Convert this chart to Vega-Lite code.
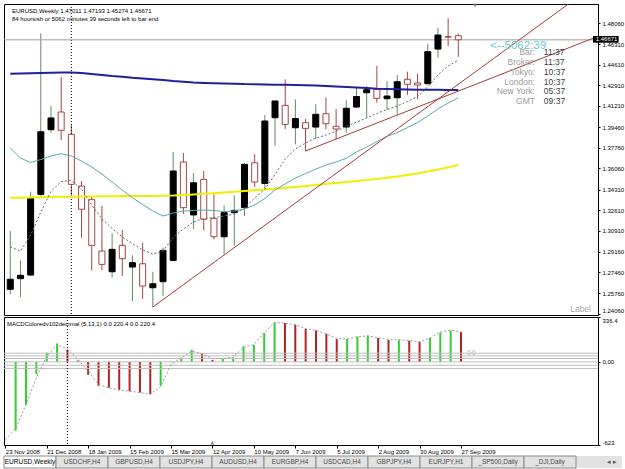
{
"$schema": "https://vega.github.io/schema/vega-lite/v6.json",
"background": "white",
"padding": {"left": 2, "top": 3, "right": 0, "bottom": 0},
"config": {
  "font": "Liberation Sans",
  "view": {"stroke": "#000000", "strokeWidth": 1},
  "axis": {"labelFont": "Liberation Sans", "labelFontSize": 6, "labelColor": "#000000", "tickColor": "#000000", "tickSize": 2, "domain": false, "grid": false}
},
"datasets": {
  "weeks": [
    {"date":"2008-11-23","open":1.2607,"high":1.3088,"low":1.2566,"close":1.2690,"ma_slow":1.4387,"ma_long":1.3363,"ma_mid":1.3774,"ma_fast":1.2956,"signal":-583},
    {"date":"2008-11-30","open":1.2695,"high":1.2846,"low":1.2543,"close":1.2723,"ma_slow":1.4389,"ma_long":1.3364,"ma_mid":1.3691,"ma_fast":1.2923,"macd":-514,"signal":-500,"trend":"up"},
    {"date":"2008-12-07","open":1.2725,"high":1.3413,"low":1.2717,"close":1.3363,"ma_slow":1.4391,"ma_long":1.3366,"ma_mid":1.3654,"ma_fast":1.3055,"macd":-322,"signal":-320,"trend":"up"},
    {"date":"2008-12-14","open":1.3391,"high":1.4721,"low":1.3377,"close":1.3908,"ma_slow":1.4393,"ma_long":1.3368,"ma_mid":1.3679,"ma_fast":1.3245,"macd":-92,"signal":-120,"trend":"up"},
    {"date":"2008-12-21","open":1.3925,"high":1.4121,"low":1.3900,"close":1.4022,"ma_slow":1.4395,"ma_long":1.3369,"ma_mid":1.3708,"ma_fast":1.3415,"macd":69,"signal":40,"trend":"up"},
    {"date":"2008-12-28","open":1.4071,"high":1.4360,"low":1.3840,"close":1.3920,"ma_slow":1.4397,"ma_long":1.3371,"ma_mid":1.3727,"ma_fast":1.3497,"macd":138,"signal":130,"trend":"up"},
    {"date":"2009-01-04","open":1.3887,"high":1.3969,"low":1.3377,"close":1.3474,"ma_slow":1.4397,"ma_long":1.3372,"ma_mid":1.3708,"ma_fast":1.3505,"macd":90,"signal":95,"trend":"down"},
    {"date":"2009-01-11","open":1.3460,"high":1.3501,"low":1.3033,"close":1.3268,"ma_slow":1.4393,"ma_long":1.3373,"ma_mid":1.3666,"ma_fast":1.3435,"macd":10,"signal":20,"trend":"down"},
    {"date":"2009-01-18","open":1.3350,"high":1.3377,"low":1.2764,"close":1.2970,"ma_slow":1.4385,"ma_long":1.3374,"ma_mid":1.3617,"ma_fast":1.3303,"macd":-97,"signal":-70,"trend":"down"},
    {"date":"2009-01-25","open":1.2923,"high":1.3295,"low":1.2764,"close":1.2813,"ma_slow":1.4377,"ma_long":1.3375,"ma_mid":1.3559,"ma_fast":1.3188,"macd":-179,"signal":-170,"trend":"down"},
    {"date":"2009-02-01","open":1.2752,"high":1.3069,"low":1.2703,"close":1.2937,"ma_slow":1.4368,"ma_long":1.3376,"ma_mid":1.3493,"ma_fast":1.3109,"macd":-194,"signal":-195,"trend":"down"},
    {"date":"2009-02-08","open":1.2970,"high":1.3097,"low":1.2717,"close":1.2860,"ma_slow":1.4362,"ma_long":1.3377,"ma_mid":1.3427,"ma_fast":1.3039,"macd":-212,"signal":-210,"trend":"down"},
    {"date":"2009-02-15","open":1.2791,"high":1.2888,"low":1.2510,"close":1.2827,"ma_slow":1.4354,"ma_long":1.3377,"ma_mid":1.3363,"ma_fast":1.2985,"macd":-220,"signal":-220,"trend":"down"},
    {"date":"2009-02-22","open":1.2818,"high":1.2992,"low":1.2527,"close":1.2634,"ma_slow":1.4348,"ma_long":1.3377,"ma_mid":1.3307,"ma_fast":1.2932,"macd":-230,"signal":-230,"trend":"down"},
    {"date":"2009-03-01","open":1.2620,"high":1.2752,"low":1.2461,"close":1.2653,"ma_slow":1.4341,"ma_long":1.3378,"ma_mid":1.3254,"ma_fast":1.2898,"macd":-243,"signal":-242,"trend":"down"},
    {"date":"2009-03-08","open":1.2670,"high":1.2951,"low":1.2552,"close":1.2929,"ma_slow":1.4335,"ma_long":1.3380,"ma_mid":1.3212,"ma_fast":1.2923,"macd":-179,"signal":-185,"trend":"up"},
    {"date":"2009-03-15","open":1.2846,"high":1.3741,"low":1.2841,"close":1.3584,"ma_slow":1.4327,"ma_long":1.3382,"ma_mid":1.3237,"ma_fast":1.3035,"macd":5,"signal":-20,"trend":"up"},
    {"date":"2009-03-22","open":1.3658,"high":1.3733,"low":1.3229,"close":1.3281,"ma_slow":1.4321,"ma_long":1.3386,"ma_mid":1.3254,"ma_fast":1.3105,"macd":31,"signal":30,"trend":"up"},
    {"date":"2009-03-29","open":1.3221,"high":1.3567,"low":1.3105,"close":1.3487,"ma_slow":1.4315,"ma_long":1.3391,"ma_mid":1.3258,"ma_fast":1.3163,"macd":90,"signal":80,"trend":"up"},
    {"date":"2009-04-05","open":1.3515,"high":1.3584,"low":1.3093,"close":1.3185,"ma_slow":1.4311,"ma_long":1.3396,"ma_mid":1.3262,"ma_fast":1.3193,"macd":61,"signal":60,"trend":"down"},
    {"date":"2009-04-12","open":1.3193,"high":1.3391,"low":1.3020,"close":1.3041,"ma_slow":1.4308,"ma_long":1.3401,"ma_mid":1.3258,"ma_fast":1.3198,"macd":15,"signal":25,"trend":"down"},
    {"date":"2009-04-19","open":1.3041,"high":1.3301,"low":1.2896,"close":1.3240,"ma_slow":1.4306,"ma_long":1.3406,"ma_mid":1.3248,"ma_fast":1.3212,"macd":26,"signal":25,"trend":"up"},
    {"date":"2009-04-26","open":1.3240,"high":1.3383,"low":1.2969,"close":1.3259,"ma_slow":1.4305,"ma_long":1.3412,"ma_mid":1.3254,"ma_fast":1.3229,"macd":31,"signal":35,"trend":"up"},
    {"date":"2009-05-03","open":1.3282,"high":1.3650,"low":1.3212,"close":1.3639,"ma_slow":1.4302,"ma_long":1.3419,"ma_mid":1.3270,"ma_fast":1.3278,"macd":115,"signal":110,"trend":"up"},
    {"date":"2009-05-10","open":1.3652,"high":1.3722,"low":1.3452,"close":1.3493,"ma_slow":1.4301,"ma_long":1.3425,"ma_mid":1.3303,"ma_fast":1.3361,"macd":128,"signal":130,"trend":"up"},
    {"date":"2009-05-17","open":1.3481,"high":1.4046,"low":1.3433,"close":1.3997,"ma_slow":1.4299,"ma_long":1.3432,"ma_mid":1.3357,"ma_fast":1.3435,"macd":217,"signal":220,"trend":"up"},
    {"date":"2009-05-24","open":1.4024,"high":1.4165,"low":1.3790,"close":1.4162,"ma_slow":1.4297,"ma_long":1.3438,"ma_mid":1.3427,"ma_fast":1.3555,"macd":297,"signal":295,"trend":"up"},
    {"date":"2009-05-31","open":1.4126,"high":1.4341,"low":1.3931,"close":1.3969,"ma_slow":1.4296,"ma_long":1.3445,"ma_mid":1.3477,"ma_fast":1.3683,"macd":292,"signal":290,"trend":"down"},
    {"date":"2009-06-07","open":1.3941,"high":1.4176,"low":1.3804,"close":1.4017,"ma_slow":1.4294,"ma_long":1.3452,"ma_mid":1.3526,"ma_fast":1.3766,"macd":279,"signal":278,"trend":"down"},
    {"date":"2009-06-14","open":1.3983,"high":1.4013,"low":1.3749,"close":1.3936,"ma_slow":1.4292,"ma_long":1.3460,"ma_mid":1.3563,"ma_fast":1.3815,"macd":248,"signal":250,"trend":"down"},
    {"date":"2009-06-21","open":1.3947,"high":1.4135,"low":1.3848,"close":1.4052,"ma_slow":1.4290,"ma_long":1.3468,"ma_mid":1.3600,"ma_fast":1.3856,"macd":235,"signal":235,"trend":"down"},
    {"date":"2009-06-28","open":1.4057,"high":1.4189,"low":1.3928,"close":1.3974,"ma_slow":1.4286,"ma_long":1.3476,"ma_mid":1.3633,"ma_fast":1.3881,"macd":210,"signal":210,"trend":"down"},
    {"date":"2009-07-05","open":1.3953,"high":1.4096,"low":1.3846,"close":1.3931,"ma_slow":1.4282,"ma_long":1.3484,"ma_mid":1.3658,"ma_fast":1.3914,"macd":171,"signal":175,"trend":"down"},
    {"date":"2009-07-12","open":1.3947,"high":1.4168,"low":1.3900,"close":1.4102,"ma_slow":1.4278,"ma_long":1.3493,"ma_mid":1.3689,"ma_fast":1.3951,"macd":173,"signal":172,"trend":"up"},
    {"date":"2009-07-19","open":1.4112,"high":1.4272,"low":1.4104,"close":1.4199,"ma_slow":1.4274,"ma_long":1.3501,"ma_mid":1.3741,"ma_fast":1.3988,"macd":189,"signal":188,"trend":"up"},
    {"date":"2009-07-26","open":1.4230,"high":1.4286,"low":1.4022,"close":1.4255,"ma_slow":1.4269,"ma_long":1.3509,"ma_mid":1.3782,"ma_fast":1.4022,"macd":197,"signal":196,"trend":"up"},
    {"date":"2009-08-02","open":1.4259,"high":1.4451,"low":1.4148,"close":1.4184,"ma_slow":1.4264,"ma_long":1.3519,"ma_mid":1.3827,"ma_fast":1.4059,"macd":179,"signal":180,"trend":"down"},
    {"date":"2009-08-09","open":1.4181,"high":1.4327,"low":1.4088,"close":1.4203,"ma_slow":1.4261,"ma_long":1.3529,"ma_mid":1.3870,"ma_fast":1.4092,"macd":164,"signal":168,"trend":"down"},
    {"date":"2009-08-16","open":1.4189,"high":1.4377,"low":1.4046,"close":1.4321,"ma_slow":1.4259,"ma_long":1.3539,"ma_mid":1.3902,"ma_fast":1.4121,"macd":166,"signal":165,"trend":"up"},
    {"date":"2009-08-23","open":1.4341,"high":1.4404,"low":1.4211,"close":1.4300,"ma_slow":1.4257,"ma_long":1.3551,"ma_mid":1.3943,"ma_fast":1.4158,"macd":159,"signal":160,"trend":"down"},
    {"date":"2009-08-30","open":1.4311,"high":1.4387,"low":1.4176,"close":1.4294,"ma_slow":1.4255,"ma_long":1.3564,"ma_mid":1.3984,"ma_fast":1.4199,"macd":151,"signal":150,"trend":"down"},
    {"date":"2009-09-06","open":1.4305,"high":1.4635,"low":1.4298,"close":1.4569,"ma_slow":1.4254,"ma_long":1.3580,"ma_mid":1.4038,"ma_fast":1.4278,"macd":179,"signal":180,"trend":"up"},
    {"date":"2009-09-13","open":1.4591,"high":1.4767,"low":1.4519,"close":1.4707,"ma_slow":1.4254,"ma_long":1.3596,"ma_mid":1.4096,"ma_fast":1.4377,"macd":220,"signal":222,"trend":"up"},
    {"date":"2009-09-20","open":1.4695,"high":1.4845,"low":1.4616,"close":1.4689,"ma_slow":1.4253,"ma_long":1.3614,"ma_mid":1.4145,"ma_fast":1.4451,"macd":235,"signal":238,"trend":"up"},
    {"date":"2009-09-27","open":1.47011,"high":1.47193,"low":1.45274,"close":1.46671,"ma_slow":1.4253,"ma_long":1.3633,"ma_mid":1.4189,"ma_fast":1.4500,"macd":223,"signal":225,"trend":"down"}
  ],
  "trend": [
    {"line":"A","date":"2009-03-01","price":1.2461},
    {"line":"A","date":"2009-12-28T14:00:00Z","price":1.5111},
    {"line":"B","date":"2009-06-14","price":1.3749},
    {"line":"B","date":"2009-12-28T14:00:00Z","price":1.4680}
  ],
  "levels": [{"level":65},{"level":45},{"level":25},{"level":0},{"level":-25},{"level":-50}],
  "tabs": [
    {"tab":"EURUSD,Weekly"},{"tab":"USDCHF,H4"},{"tab":"GBPUSD,H4"},{"tab":"USDJPY,H4"},{"tab":"AUDUSD,H4"},{"tab":"EURGBP,H4"},{"tab":"USDCAD,H4"},{"tab":"GBPJPY,H4"},{"tab":"EURJPY,H1"},{"tab":"_SP500,Daily"},{"tab":"_DJI,Daily"}
  ]
},
"spacing": 0,
"vconcat": [
  {
    "width": 594, "height": 311,
    "data": {"name": "weeks"},
    "resolve": {"axis": {"x": "independent", "y": "independent"}},
    "layer": [
      {"mark": {"type": "rule", "strokeWidth": 1},
       "encoding": {
         "x": {"field": "date", "type": "temporal", "scale": {"type": "utc", "domain": [{"year":2008,"month":11,"date":22,"hours":3,"utc":true},{"year":2009,"month":12,"date":28,"hours":14,"utc":true}], "nice": false}, "axis": null},
         "y": {"field": "low", "type": "quantitative", "scale": {"domain": [1.2395, 1.4963], "nice": false, "zero": false},
               "axis": {"orient": "right", "title": null, "values": [1.4806,1.4631,1.4461,1.4291,1.4121,1.3946,1.3776,1.3606,1.3431,1.3261,1.3091,1.2916,1.2746,1.2576,1.2406], "format": ".5f", "labelPadding": 2, "tickSize": 2, "labelOverlap": false, "labelFlush": 2}},
         "y2": {"field": "high"},
         "color": {"condition": {"test": "datum.close >= datum.open", "value": "#5e8f5e"}, "value": "#a04646"}
       }},
      {"data": {"values": [{}]}, "mark": {"type": "rule", "color": "#000000", "strokeDash": [1, 2]},
       "encoding": {"x": {"datum": {"year":2009,"month":1,"date":4,"utc":true}, "type": "temporal", "axis": null}}},
      {"data": {"values": [{}]}, "mark": {"type": "rule", "color": "#a0a0a0"},
       "encoding": {"y": {"datum": 1.46671, "type": "quantitative", "axis": null}}},
      {"mark": {"type": "bar", "size": 6, "strokeWidth": 1},
       "encoding": {
         "x": {"field": "date", "type": "temporal", "axis": null},
         "y": {"field": "open", "type": "quantitative", "axis": null},
         "y2": {"field": "close"},
         "fill": {"condition": {"test": "datum.close >= datum.open", "value": "#000000"}, "value": "#ffffff"},
         "stroke": {"condition": {"test": "datum.close >= datum.open", "value": "#000000"}, "value": "#a04646"}
       }},
      {"mark": {"type": "line", "color": "#f0ef00", "strokeWidth": 2},
       "encoding": {"x": {"field": "date", "type": "temporal", "axis": null}, "y": {"field": "ma_long", "type": "quantitative", "axis": null}}},
      {"mark": {"type": "line", "color": "#5aa9a9", "strokeWidth": 1},
       "encoding": {"x": {"field": "date", "type": "temporal", "axis": null}, "y": {"field": "ma_mid", "type": "quantitative", "axis": null}}},
      {"mark": {"type": "line", "color": "#6a6a6a", "strokeWidth": 1, "strokeDash": [2, 2]},
       "encoding": {"x": {"field": "date", "type": "temporal", "axis": null}, "y": {"field": "ma_fast", "type": "quantitative", "axis": null}}},
      {"mark": {"type": "line", "color": "#20209a", "strokeWidth": 2},
       "encoding": {"x": {"field": "date", "type": "temporal", "axis": null}, "y": {"field": "ma_slow", "type": "quantitative", "axis": null}}},
      {"data": {"name": "trend"}, "mark": {"type": "line", "color": "#a03c3c", "strokeWidth": 1, "clip": true},
       "encoding": {"x": {"field": "date", "type": "temporal", "axis": null}, "y": {"field": "price", "type": "quantitative", "axis": null}, "detail": {"field": "line"}}},
      {"data": {"values": [{}]}, "mark": {"type": "rect", "color": "#000000"},
       "encoding": {"x": {"datum": {"year":2009,"month":12,"date":28,"hours":14,"utc":true}, "type": "temporal", "axis": null},
                    "x2": {"datum": {"year":2010,"month":1,"date":15,"hours":5,"utc":true}},
                    "y": {"datum": 1.46987, "type": "quantitative", "axis": null}, "y2": {"datum": 1.46433}}},
      {"data": {"values": [{}]}, "mark": {"type": "text", "text": "1.46671", "color": "#ffffff", "fontSize": 6, "align": "center", "baseline": "middle"},
       "encoding": {"x": {"datum": {"year":2010,"month":1,"date":6,"hours":22,"utc":true}, "type": "temporal", "axis": null},
                    "y": {"datum": 1.46700, "type": "quantitative", "axis": null}}},
      {"data": {"values": [{}]}, "mark": {"type": "text", "text": ["EURUSD,Weekly  1.47011 1.47193 1.45274 1.46671", "84 hoursish or 5062 minutes 39 seconds left to bar end"], "align": "left", "baseline": "middle", "fontSize": 6, "lineHeight": 7.3, "dx": 3, "color": "#000000"},
       "encoding": {"x": {"datum": {"year":2008,"month":11,"date":22,"hours":3,"utc":true}, "type": "temporal", "axis": null},
                    "y": {"datum": 1.4902, "type": "quantitative", "axis": null}}},
      {"data": {"values": [{}]}, "mark": {"type": "text", "text": ["Bar:", "Broker:", "Tokyo:", "London:", "New York:", "GMT"], "align": "right", "baseline": "middle", "fontSize": 8.5, "lineHeight": 9.8, "color": "#9a9a9a"},
       "encoding": {"x": {"datum": {"year":2009,"month":11,"date":18,"hours":17,"utc":true}, "type": "temporal", "axis": null},
                    "y": {"datum": 1.4565, "type": "quantitative", "axis": null}}},
      {"data": {"values": [{}]}, "mark": {"type": "text", "text": ["11:37", "11:37", "10:37", "10:37", "05:37", "09:37"], "align": "left", "baseline": "middle", "fontSize": 8.5, "lineHeight": 9.8, "color": "#3c3c3c"},
       "encoding": {"x": {"datum": {"year":2009,"month":11,"date":24,"hours":19,"utc":true}, "type": "temporal", "axis": null},
                    "y": {"datum": 1.4565, "type": "quantitative", "axis": null}}},
      {"data": {"values": [{}]}, "mark": {"type": "text", "text": "<--5062:39", "align": "left", "baseline": "middle", "fontSize": 11.5, "color": "#66cccc"},
       "encoding": {"x": {"datum": {"year":2009,"month":10,"date":18,"hours":22,"utc":true}, "type": "temporal", "axis": null},
                    "y": {"datum": 1.4616, "type": "quantitative", "axis": null}}},
      {"data": {"values": [{}]}, "mark": {"type": "text", "text": "Label", "align": "right", "baseline": "bottom", "fontSize": 8.5, "dx": -2, "dy": -1, "color": "#a8a8a8"},
       "encoding": {"x": {"datum": {"year":2009,"month":12,"date":28,"hours":14,"utc":true}, "type": "temporal", "axis": null},
                    "y": {"datum": 1.2395, "type": "quantitative", "axis": null}}},
      {"data": {"values": [{}]}, "mark": {"type": "point", "shape": "triangle-down", "size": 20, "filled": true, "color": "#707070"},
       "encoding": {"x": {"datum": {"year":2009,"month":10,"date":8,"hours":12,"utc":true}, "type": "temporal", "axis": null},
                    "y": {"datum": 1.4950, "type": "quantitative", "axis": null}}}
    ]
  },
  {
    "width": 594, "height": 128,
    "data": {"name": "weeks"},
    "resolve": {"axis": {"x": "independent", "y": "independent"}},
    "layer": [
      {"mark": {"type": "rule", "strokeWidth": 2},
       "encoding": {
         "x": {"field": "date", "type": "temporal", "scale": {"type": "utc", "domain": [{"year":2008,"month":11,"date":22,"hours":3,"utc":true},{"year":2009,"month":12,"date":28,"hours":14,"utc":true}], "nice": false},
               "axis": {"orient": "bottom", "title": null, "values": [
                 {"year":2008,"month":11,"date":23,"utc":true},{"year":2008,"month":12,"date":21,"utc":true},{"year":2009,"month":1,"date":18,"utc":true},{"year":2009,"month":2,"date":15,"utc":true},{"year":2009,"month":3,"date":15,"utc":true},{"year":2009,"month":4,"date":12,"utc":true},{"year":2009,"month":5,"date":10,"utc":true},{"year":2009,"month":6,"date":7,"utc":true},{"year":2009,"month":7,"date":5,"utc":true},{"year":2009,"month":8,"date":2,"utc":true},{"year":2009,"month":8,"date":30,"utc":true},{"year":2009,"month":9,"date":27,"utc":true}],
                 "format": "%-d %b %Y", "labelAlign": "left", "labelPadding": 0, "tickSize": 3, "labelFlush": false, "labelOverlap": false, "labelBound": false}},
         "y": {"field": "macd", "type": "quantitative", "scale": {"domain": [-623, 336.4], "nice": false, "zero": false},
               "axis": {"orient": "right", "title": null, "values": [336.4, 0, -623], "labelExpr": "datum.value == 0 ? '0.00' : (datum.value > 0 ? '336.4' : '-623')", "labelFlush": true, "labelPadding": 2, "tickSize": 2, "labelOverlap": false}},
         "y2": {"datum": 0},
         "color": {"field": "trend", "type": "nominal", "scale": {"domain": ["up", "down"], "range": ["#33cc33", "#b22222"]}, "legend": null}
       }},
      {"data": {"name": "levels"}, "mark": {"type": "rule", "color": "#bdbdbd"},
       "encoding": {"y": {"field": "level", "type": "quantitative", "axis": null}}},
      {"data": {"values": [{}]}, "mark": {"type": "rule", "color": "#000000", "strokeDash": [1, 2]},
       "encoding": {"x": {"datum": {"year":2009,"month":1,"date":4,"utc":true}, "type": "temporal", "axis": null}}},
      {"mark": {"type": "line", "color": "#9a9a9a", "strokeWidth": 1, "strokeDash": [2, 2]},
       "encoding": {"x": {"field": "date", "type": "temporal", "axis": null}, "y": {"field": "signal", "type": "quantitative", "axis": null}}},
      {"data": {"values": [{}]}, "mark": {"type": "text", "text": "MACDColoredv102decimal (5,13,1) 0.0 220.4 0.0 220.4", "align": "left", "baseline": "middle", "fontSize": 6, "dx": 3, "color": "#000000"},
       "encoding": {"x": {"datum": {"year":2008,"month":11,"date":22,"hours":3,"utc":true}, "type": "temporal", "axis": null},
                    "y": {"datum": 282, "type": "quantitative", "axis": null}}},
      {"data": {"values": [{}]}, "mark": {"type": "text", "text": "56", "align": "left", "baseline": "middle", "fontSize": 8, "color": "#c4c4c4"},
       "encoding": {"x": {"datum": {"year":2009,"month":10,"date":1,"utc":true}, "type": "temporal", "axis": null},
                    "y": {"datum": 69, "type": "quantitative", "axis": null}}},
      {"data": {"values": [{}]}, "mark": {"type": "point", "shape": "triangle-up", "size": 20, "filled": true, "color": "#606060"},
       "encoding": {"x": {"datum": {"year":2009,"month":4,"date":12,"utc":true}, "type": "temporal", "axis": null},
                    "y": {"datum": -605, "type": "quantitative", "axis": null}}}
    ]
  },
  {
    "width": 618, "height": 12,
    "view": {"fill": "#e2e2e2", "stroke": null},
    "data": {"name": "tabs"},
    "layer": [
      {"mark": {"type": "rect", "stroke": "#8a8a8a", "strokeWidth": 1},
       "encoding": {
         "x": {"field": "tab", "type": "nominal", "sort": null, "scale": {"range": [0, 572], "paddingInner": 0, "paddingOuter": 0}, "axis": null},
         "fill": {"condition": {"test": "datum.tab === 'EURUSD,Weekly'", "value": "#ffffff"}, "value": "#e2e2e2"}
       }},
      {"mark": {"type": "text", "fontSize": 6.5, "baseline": "middle", "align": "center"},
       "encoding": {
         "x": {"field": "tab", "type": "nominal", "sort": null, "axis": null},
         "text": {"field": "tab"},
         "color": {"condition": {"test": "datum.tab === 'EURUSD,Weekly'", "value": "#000000"}, "value": "#4a4a4a"}
       }},
      {"data": {"values": [{}]}, "mark": {"type": "text", "text": "◂  ▸", "dx": 62, "align": "center", "baseline": "middle", "fontSize": 7, "color": "#555555"},
       "encoding": {"x": {"datum": "_DJI,Daily", "type": "nominal", "axis": null}}}
    ]
  }
]
}
